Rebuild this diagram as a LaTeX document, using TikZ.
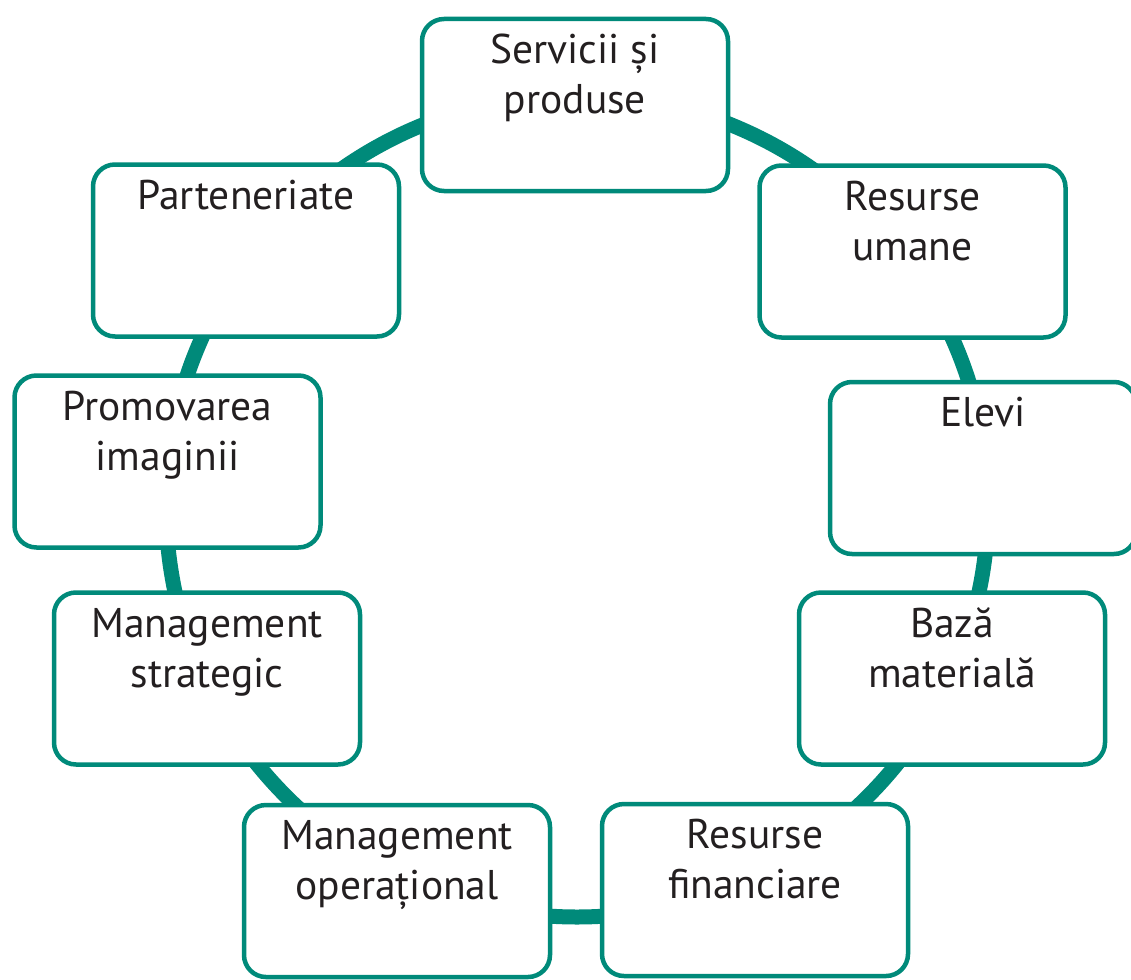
\documentclass[tikz,border=0pt]{standalone}
\usepackage{fontspec}
\setmainfont{PT Sans}
\definecolor{ringteal}{RGB}{0,138,122}
\definecolor{txtdark}{RGB}{35,31,32}
\newcommand{\lbl}[1]{\parbox[c][172pt][t]{300pt}{\centering\fontsize{41.5}{50}\selectfont\rule{0pt}{44.5pt}#1}}
\begin{document}
\begin{tikzpicture}[x=1pt,y=-1pt,
  box/.style={draw=ringteal, line width=4.5pt, fill=white, rounded corners=22pt,
    minimum width=306pt, minimum height=172pt, inner sep=0pt, text=txtdark},
  ring/.style={draw=ringteal, line width=15pt}]
\useasboundingbox (0,0) rectangle (1131,979);
\coordinate (c) at (577,506);
\draw[ring] (c) circle[radius=411];
\node[box] (serv) at (575,105) {\lbl{Servicii și\\produse}};
\node[box] (resu) at (912.5,251.5) {\lbl{Resurse\\umane}};
\node[box] (elevi) at (983,468) {\lbl{Elevi}};
\node[box] (baza) at (952,678.5) {\lbl{Bază\\materială}};
\node[box] (resf) at (755,890) {\lbl{Resurse\\financiare}};
\node[box] (mop) at (397,891) {\lbl{Management\\operațional}};
\node[box] (mstr) at (207,678.5) {\lbl{Management\\strategic}};
\node[box] (prom) at (167.5,461.5) {\lbl{Promovarea\\imaginii}};
\node[box] (part) at (246,250.5) {\lbl{Parteneriate}};
\end{tikzpicture}
\end{document}
